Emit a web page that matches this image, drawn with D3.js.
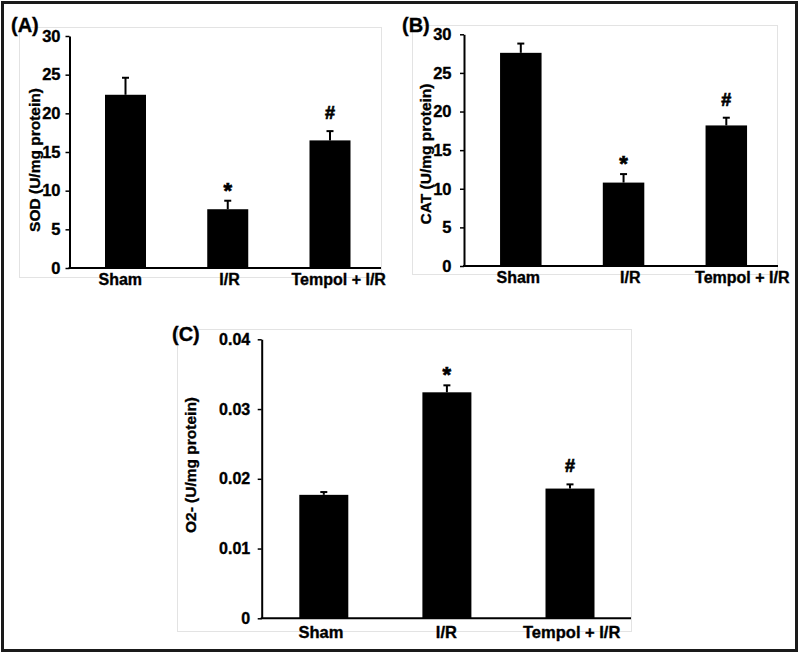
<!DOCTYPE html>
<html>
<head>
<meta charset="utf-8">
<script src="https://cdn.jsdelivr.net/npm/d3@7"></script>
<style>
  html, body { margin: 0; padding: 0; background: #fff; }
  svg { display: block; }
  text { font-family: Arial, "Liberation Sans", sans-serif; font-weight: bold; fill: #000; stroke: #000; stroke-width: 0.35px; }
</style>
</head>
<body>
<svg id="chart" width="800" height="656"></svg>
<script>
// ---- Data ----
const categories = ["Sham", "I/R", "Tempol + I/R"];

const sodValues = [22.4, 7.6, 16.5];
const sodErrors = [2.2, 1.1, 1.2];
const sodMarks  = ["", "*", "#"];
const sodTicks  = [0, 5, 10, 15, 20, 25, 30];

const catValues = [27.6, 10.8, 18.2];
const catErrors = [1.2, 1.1, 1.0];
const catMarks  = ["", "*", "#"];
const catTicks  = [0, 5, 10, 15, 20, 25, 30];

const o2Values = [0.0177, 0.0324, 0.0186];
const o2Errors = [0.0004, 0.0010, 0.0006];
const o2Marks  = ["", "*", "#"];
const o2Ticks  = [0, 0.01, 0.02, 0.03, 0.04];

const panelLabels = ["(A)", "(B)", "(C)"];
const yTitles = ["SOD (U/mg protein)", "CAT (U/mg protein)", "O2- (U/mg protein)"];

// ---- Layout ----
const svg = d3.select("#chart");

svg.append("rect")
  .attr("x", 2.5).attr("y", 2.5).attr("width", 794).attr("height", 648)
  .attr("fill", "#fff").attr("stroke", "#1a1a1a").attr("stroke-width", 3);

const panels = [
  {
    values: sodValues, errors: sodErrors, marks: sodMarks, ticks: sodTicks,
    fmt: d3.format("d"), max: 30, label: panelLabels[0], title: yTitles[0],
    frame: [19, 27, 381, 277], axisX: 69.5, y0: 268, yTop: 36, xEnd: 381,
    barC: [125.5, 330], labC: [120.3, 338.7], barW: 41, labelY: 285,
    tickPad: 5, tickFont: 16.5, labFont: 16,
    panelPos: [11, 32], titlePos: [34, 160], titleFont: 15.5, markFont: 20
  },
  {
    values: catValues, errors: catErrors, marks: catMarks, ticks: catTicks,
    fmt: d3.format("d"), max: 30, label: panelLabels[1], title: yTitles[1],
    frame: [412, 25, 777, 274], axisX: 464, y0: 266, yTop: 34.3, xEnd: 778,
    barC: [520.8, 726.3], labC: [518.3, 742.3], barW: 41.5, labelY: 283,
    tickPad: 8.5, tickFont: 16.5, labFont: 16,
    panelPos: [402, 32], titlePos: [425, 154], titleFont: 15.5, markFont: 20
  },
  {
    values: o2Values, errors: o2Errors, marks: o2Marks, ticks: o2Ticks,
    fmt: d => d === 0 ? "0" : d3.format(".2f")(d), max: 0.04, label: panelLabels[2], title: yTitles[2],
    frame: [177, 329, 631, 631], axisX: 261.7, y0: 618.3, yTop: 339.3, xEnd: 631,
    barC: [323.8, 570], labC: [321, 571.7], barW: 49, labelY: 638,
    tickPad: 7.5, tickFont: 16, labFont: 16.5,
    panelPos: [172, 341], titlePos: [190, 465], titleFont: 15.5, markFont: 20
  }
];

panels.forEach(p => {
  const g = svg.append("g");

  // light frame
  g.append("rect")
    .attr("x", p.frame[0] + 0.5).attr("y", p.frame[1] + 0.5)
    .attr("width", p.frame[2] - p.frame[0]).attr("height", p.frame[3] - p.frame[1])
    .attr("fill", "#fff").attr("stroke", "#e3e3e3").attr("stroke-width", 1);

  const y = d3.scaleLinear().domain([0, p.max]).range([p.y0, p.yTop]);
  const xBar = d3.scalePoint().domain(categories).range(p.barC);
  const xLab = d3.scalePoint().domain(categories).range(p.labC);

  // bars
  g.selectAll("rect.bar").data(categories).join("rect")
    .attr("class", "bar")
    .attr("x", d => xBar(d) - p.barW / 2)
    .attr("width", p.barW)
    .attr("y", (d, i) => y(p.values[i]))
    .attr("height", (d, i) => p.y0 - y(p.values[i]))
    .attr("fill", "#000");

  // error bars (upper only)
  const eb = g.selectAll("g.err").data(categories).join("g").attr("class", "err");
  eb.append("line")
    .attr("x1", d => xBar(d)).attr("x2", d => xBar(d))
    .attr("y1", (d, i) => y(p.values[i]))
    .attr("y2", (d, i) => y(p.values[i] + p.errors[i]))
    .attr("stroke", "#000").attr("stroke-width", 2);
  eb.append("line")
    .attr("x1", d => xBar(d) - 3.5).attr("x2", d => xBar(d) + 3.5)
    .attr("y1", (d, i) => y(p.values[i] + p.errors[i]))
    .attr("y2", (d, i) => y(p.values[i] + p.errors[i]))
    .attr("stroke", "#000").attr("stroke-width", 2);

  // significance marks
  g.selectAll("text.mark").data(categories).join("text")
    .attr("class", "mark")
    .attr("x", d => xBar(d))
    .attr("y", (d, i) => y(p.values[i] + p.errors[i]) - (p.marks[i] === "*" ? 3 : 12))
    .attr("text-anchor", "middle")
    .attr("font-size", (d, i) => p.marks[i] === "*" ? p.markFont + 2 : p.markFont - 2)
    .style("stroke-width", "0.7px")
    .text((d, i) => p.marks[i]);

  // y axis
  const yAxis = d3.axisLeft(y).tickValues(p.ticks).tickFormat(p.fmt)
    .tickSize(4).tickPadding(p.tickPad).tickSizeOuter(0);
  const ya = g.append("g").attr("transform", `translate(${p.axisX},0)`).call(yAxis);
  ya.attr("font-size", null).attr("font-family", null);
  ya.select(".domain").attr("stroke", "#000").attr("stroke-width", 2);
  ya.selectAll(".tick line").attr("stroke", "#000").attr("stroke-width", 1.5);
  ya.selectAll(".tick text")
    .style("font-family", "Arial, 'Liberation Sans', sans-serif")
    .style("font-weight", "bold").style("font-size", p.tickFont + "px").attr("fill", "#000");

  // x axis line
  g.append("line")
    .attr("x1", p.axisX - 1).attr("x2", p.xEnd)
    .attr("y1", p.y0).attr("y2", p.y0)
    .attr("stroke", "#000").attr("stroke-width", 2);

  // x labels
  g.selectAll("text.xlab").data(categories).join("text")
    .attr("class", "xlab")
    .attr("x", d => xLab(d))
    .attr("y", p.labelY)
    .attr("text-anchor", "middle")
    .attr("font-size", p.labFont)
    .text(d => d);

  // y title
  g.append("text")
    .attr("transform", `translate(${p.titlePos[0]},${p.titlePos[1]}) rotate(-90)`)
    .attr("text-anchor", "middle")
    .attr("dominant-baseline", "central")
    .attr("font-size", p.titleFont)
    .text(p.title);

  // panel label
  g.append("text")
    .attr("x", p.panelPos[0]).attr("y", p.panelPos[1])
    .attr("font-size", 20)
    .text(p.label);
});
</script>
</body>
</html>
